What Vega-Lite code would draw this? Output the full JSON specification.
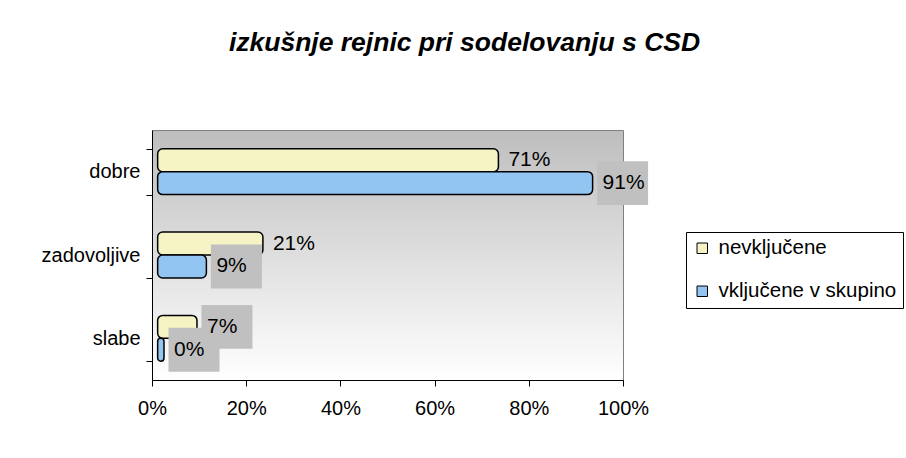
{
  "$schema": "https://vega.github.io/schema/vega-lite/v6.json",
  "width": 471,
  "height": 250,
  "autosize": "none",
  "padding": {"left": 152, "top": 130, "right": 283, "bottom": 78},
  "background": "white",
  "title": {
    "text": "izkušnje rejnic pri sodelovanju s CSD",
    "font": "Liberation Sans",
    "fontSize": 26.5,
    "fontStyle": "italic",
    "fontWeight": "bold",
    "color": "black",
    "anchor": "middle",
    "frame": "group",
    "dx": 77,
    "offset": 64
  },
  "config": {
    "view": {
      "stroke": "#808080",
      "strokeWidth": 1,
      "fill": {
        "gradient": "linear",
        "x1": 0, "y1": 0, "x2": 0, "y2": 1,
        "stops": [
          {"offset": 0, "color": "#bebebe"},
          {"offset": 1, "color": "#ffffff"}
        ]
      }
    },
    "font": "Liberation Sans"
  },
  "data": {
    "values": [
      {"cat": "dobre", "series": "nevključene", "value": 71},
      {"cat": "dobre", "series": "vključene v skupino", "value": 91},
      {"cat": "zadovoljive", "series": "nevključene", "value": 21},
      {"cat": "zadovoljive", "series": "vključene v skupino", "value": 9},
      {"cat": "slabe", "series": "nevključene", "value": 7},
      {"cat": "slabe", "series": "vključene v skupino", "value": 0}
    ]
  },
  "transform": [
    {"calculate": "datum.value + '%'", "as": "label"}
  ],
  "encoding": {
    "y": {
      "field": "cat",
      "type": "nominal",
      "sort": ["dobre", "zadovoljive", "slabe"],
      "scale": {"paddingInner": 0.45, "paddingOuter": 0.225},
      "axis": {
        "title": null,
        "domainColor": "black",
        "tickColor": "black",
        "tickBand": "extent",
        "tickSize": 6,
        "labelPadding": 6,
        "labelFontSize": 20,
        "labelColor": "black",
        "labelFont": "Liberation Sans"
      }
    },
    "yOffset": {
      "field": "series",
      "type": "nominal",
      "sort": ["nevključene", "vključene v skupino"],
      "scale": {"paddingInner": 0}
    },
    "x": {
      "field": "value",
      "type": "quantitative",
      "scale": {"domain": [0, 100]},
      "axis": {
        "title": null,
        "values": [0, 20, 40, 60, 80, 100],
        "labelExpr": "datum.value + '%'",
        "grid": false,
        "domainColor": "black",
        "tickColor": "black",
        "tickSize": 6,
        "labelPadding": 12,
        "labelFontSize": 20,
        "labelColor": "black",
        "labelFont": "Liberation Sans",
        "labelFlush": false
      }
    }
  },
  "layer": [
    {
      "mark": {
        "type": "bar",
        "stroke": "black",
        "strokeWidth": 1.5,
        "cornerRadius": 5,
        "xOffset": 12
      },
      "encoding": {
        "x2": {"datum": 1.2},
        "color": {
          "field": "series",
          "type": "nominal",
          "sort": ["nevključene", "vključene v skupino"],
          "scale": {"range": ["#F6F4C4", "#93C5F3"]},
          "legend": {
            "title": null,
            "orient": "none",
            "legendX": 534,
            "legendY": 102,
            "direction": "vertical",
            "strokeColor": "black",
            "fillColor": "white",
            "padding": 6,
            "rowPadding": 22,
            "symbolType": "square",
            "symbolSize": 110,
            "symbolStrokeColor": "black",
            "symbolStrokeWidth": 1,
            "labelFontSize": 20.5,
            "labelFont": "Liberation Sans",
            "labelColor": "black",
            "labelOffset": 6,
            "labelLimit": 400
          }
        }
      }
    },
    {
      "transform": [
        {"filter": "datum.series == 'vključene v skupino' || datum.cat == 'slabe'"}
      ],
      "mark": {
        "type": "point",
        "shape": "M-1,-0.86H1V0.86H-1Z",
        "size": 2600,
        "filled": true,
        "fill": "#c0c0c0",
        "opacity": 1,
        "strokeWidth": 0,
        "xOffset": 42
      }
    },
    {
      "mark": {
        "type": "text",
        "align": "left",
        "baseline": "middle",
        "dx": 22,
        "fontSize": 21,
        "font": "Liberation Sans",
        "color": "black"
      },
      "encoding": {
        "text": {"field": "label", "type": "nominal"}
      }
    }
  ]
}
